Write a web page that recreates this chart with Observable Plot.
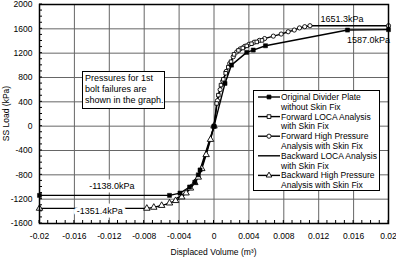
<!DOCTYPE html>
<html><head><meta charset="utf-8">
<script src="https://cdn.jsdelivr.net/npm/d3@7"></script>
<script src="https://cdn.jsdelivr.net/npm/@observablehq/plot@0.6"></script>
<style>body{margin:0;background:#fff} svg{display:block}</style>
</head><body><div id="chart"></div>
<script>
// ---- data ----
const xTicks = [-0.02,-0.016,-0.012,-0.008,-0.004,0,0.004,0.008,0.012,0.016,0.02];
const yTicks = [-1600,-1200,-800,-400,0,400,800,1200,1600,2000];

const origX = [-0.02,-0.0051,-0.0039,-0.0028,-0.0022,-0.0018,-0.0016,0,0.00126,0.002,0.00375,0.0045,0.0059,0.0153,0.02];
const origY = [-1138,-1138,-1100,-1000,-920,-800,-720,0,703,1004,1213,1251,1322,1580,1587];

const fwdLocaX = [0,0.0003,0.0005,0.0008,0.00107,0.00134,0.00164,0.00195,0.0023,0.0028,0.0033,0.00375,0.0043,0.0049,0.0055];
const fwdLocaY = [0,373,510,675,770,870,970,1060,1180,1245,1285,1320,1355,1385,1410];

const fwdHpX = [0,0.0004,0.0007,0.001,0.0014,0.0018,0.0022,0.0026,0.003,0.0035,0.004,0.0046,0.0052,0.0058,0.0068,0.0077,0.0085,0.0092,0.0098,0.0104,0.011,0.02];
const fwdHpY = [0,420,600,740,900,1030,1140,1220,1270,1310,1345,1380,1410,1440,1480,1514,1552,1580,1615,1635,1651.3,1651.3];

const bwdLocaX = [0,-0.0006,-0.0012,-0.0017,-0.0022,-0.0027,-0.0032,-0.0037,-0.0042];
const bwdLocaY = [0,-300,-580,-780,-920,-1020,-1090,-1140,-1180];

const bwdHpX = [-0.02,-0.0077,-0.0069,-0.006,-0.0051,-0.0044,-0.0037,-0.0032,-0.0027,-0.0022,-0.0018,-0.0014,-0.0009,-0.0004,0];
const bwdHpY = [-1351.4,-1351.4,-1335,-1305,-1265,-1225,-1165,-1100,-1020,-930,-840,-700,-470,-220,0];

const seriesNames = ["Original Divider Plate|without Skin Fix","Forward LOCA Analysis|with Skin Fix","Forward High Pressure|Analysis with Skin Fix","Backward LOCA Analysis|with Skin Fix","Backward High Pressure|Analysis with Skin Fix"];

const labelText = ["1651.3kPa","1587.0kPa","-1138.0kPa","-1351.4kPa"];
const labelX = [0.0122,0.01525,-0.0117,-0.0131];
const labelY = [1761,1416,-988,-1390];

const noteLines = ["Pressures for 1st","bolt failures are","shown in the graph."];

// ---- build ----
const W = 396, H = 258, ML = 39, MR = 8, MT = 4, MB = 35;
const zip = (xs, ys) => xs.map((x, i) => ({x, y: ys[i]}));
const orig = zip(origX, origY), fl = zip(fwdLocaX, fwdLocaY), fh = zip(fwdHpX, fwdHpY),
      bl = zip(bwdLocaX, bwdLocaY), bh = zip(bwdHpX, bwdHpY);
const labels = labelText.map((t, i) => ({t, x: labelX[i], y: labelY[i]}));
const posLabels = labels.filter(d => !d.t.startsWith("-"));
const negLabels = labels.filter(d => d.t.startsWith("-"));
const fmtX = d => Math.abs(d) < 1e-12 ? "0" : String(+d.toFixed(3));
const lineOpt = {x: "x", y: "y", stroke: "black", strokeWidth: 1.4};
const txtOpt = {x: "x", y: "y", text: "t", fill: "black", stroke: "white", strokeWidth: 7, paintOrder: "stroke", fontSize: 9};

const plot = Plot.plot({
  width: W, height: H, marginLeft: ML, marginRight: MR, marginTop: MT, marginBottom: MB,
  style: {fontFamily: "'Liberation Sans', Arial, sans-serif", fontSize: "8.5px", background: "white", color: "black", overflow: "visible"},
  x: {domain: [-0.02, 0.02]},
  y: {domain: [-1600, 2000]},
  marks: [
    Plot.gridX(xTicks, {stroke: "#666", strokeOpacity: 1, strokeWidth: 1}),
    Plot.gridY(yTicks, {stroke: "#666", strokeOpacity: 1, strokeWidth: 1}),
    Plot.axisX(xTicks, {tickSize: 0, tickPadding: 9, tickFormat: fmtX, label: null}),
    Plot.axisY(yTicks, {tickSize: 0, tickPadding: 7, tickFormat: d => String(d), label: null}),
    Plot.line(bl, lineOpt),
    Plot.line(bh, lineOpt),
    Plot.line(fh, lineOpt),
    Plot.line(fl, lineOpt),
    Plot.line(orig, lineOpt),
    Plot.dot(bh, {x: "x", y: "y", symbol: "triangle", r: 2.4, fill: "white", stroke: "black", strokeWidth: 0.9}),
    Plot.dot(fh, {x: "x", y: "y", symbol: "circle", r: 2.1, fill: "white", stroke: "black", strokeWidth: 0.9}),
    Plot.dot(fl, {x: "x", y: "y", symbol: "square", r: 2.0, fill: "white", stroke: "black", strokeWidth: 0.9}),
    Plot.dot(orig, {x: "x", y: "y", symbol: "square", r: 2.3, fill: "black", stroke: "black", strokeWidth: 0.5}),
    Plot.text(posLabels, {...txtOpt, textAnchor: "start", strokeWidth: 0}),
    Plot.text(negLabels, {...txtOpt, textAnchor: "middle"}),
    Plot.frame({stroke: "black", strokeWidth: 1.5})
  ]
});
document.getElementById("chart").appendChild(plot);

const svg = d3.select(plot);
const sx = d3.scaleLinear([-0.02, 0.02], [ML, W - MR]);
const sy = d3.scaleLinear([-1600, 2000], [H - MB, MT]);

// minor ticks
const gm = svg.append("g").attr("stroke", "black").attr("stroke-width", 1);
d3.range(-1600, 2001, 100).forEach(v => gm.append("line").attr("x1", ML).attr("x2", ML + 3).attr("y1", sy(v)).attr("y2", sy(v)));
d3.range(-20, 21, 1).forEach(v => gm.append("line").attr("x1", sx(v / 1000)).attr("x2", sx(v / 1000)).attr("y1", H - MB).attr("y2", H - MB - 3));

// axis titles
svg.append("text").attr("x", (ML + W - MR) / 2).attr("y", 255).attr("text-anchor", "middle")
  .attr("font-size", 8.5).text("Displaced Volume (m³)");
svg.append("text").attr("transform", `translate(9,${(MT + H - MB) / 2}) rotate(-90)`).attr("text-anchor", "middle")
  .attr("font-size", 8.5).text("SS Load (kPa)");

// note box
const nb = svg.append("g").attr("text-anchor", "start");
nb.append("rect").attr("x", 82.5).attr("y", 71.5).attr("width", 82).attr("height", 37).attr("fill", "white").attr("stroke", "black");
noteLines.forEach((t, i) => nb.append("text").attr("x", 85).attr("y", 81 + i * 11).attr("font-size", 9).text(t));

// legend
const lg = svg.append("g").attr("text-anchor", "start");
lg.append("rect").attr("x", 253.5).attr("y", 90.5).attr("width", 126).attr("height", 100).attr("fill", "white").attr("stroke", "black");
const syms = [["square", "black"], ["square", "white"], ["circle", "white"], [null, null], ["triangle", "white"]];
seriesNames.forEach((n, i) => {
  const cy = 97 + i * 19.6;
  lg.append("line").attr("x1", 258).attr("x2", 280).attr("y1", cy).attr("y2", cy).attr("stroke", "black").attr("stroke-width", 1.4);
  const [s, f] = syms[i];
  if (s) {
    const t = s === "square" ? d3.symbolSquare : s === "circle" ? d3.symbolCircle : d3.symbolTriangle;
    lg.append("path").attr("d", d3.symbol(t, 14)()).attr("transform", `translate(269,${cy})`)
      .attr("fill", f).attr("stroke", "black").attr("stroke-width", 0.9);
  }
  n.split("|").forEach((t, j) => lg.append("text").attr("x", 281).attr("y", cy + 3 + j * 9.8).attr("font-size", 8.5).text(t));
});
</script></body></html>
